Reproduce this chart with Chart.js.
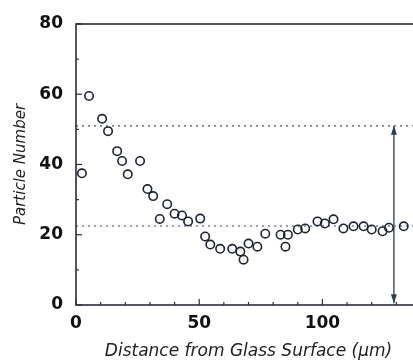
<!DOCTYPE html>
<html>
<head>
<meta charset="utf-8">
<script src="https://cdn.jsdelivr.net/npm/chart.js@4"></script>
<style>
  html, body { margin: 0; padding: 0; background: #fff; overflow: hidden; }
  #wrap { width: 430px; height: 364px; position: relative; }
</style>
</head>
<body>
<div id="wrap"><canvas id="chart" width="430" height="364"></canvas></div>
<script>
// distance from glass surface (um) and particle count
const distance = [2.4, 5.3, 10.6, 13, 16.7, 18.7, 21, 26, 29, 31.3, 34, 37, 40, 43, 45.5, 50.4, 52.4,
  54.5, 58.5, 63.4, 66.7, 68, 70, 73.6, 76.8, 83, 85, 86, 90, 93, 98, 101, 104.5, 108.5, 112.6,
  116.7, 120, 124.4, 127, 133];
const particles = [37.5, 59.5, 53, 49.5, 43.8, 41, 37.2, 41, 33, 31, 24.5, 28.7, 26, 25.5, 23.8, 24.6, 19.5,
  17.2, 16, 16, 15.2, 12.9, 17.5, 16.6, 20.3, 20, 16.6, 20, 21.5, 21.8, 23.8, 23.2, 24.4, 21.8, 22.4,
  22.4, 21.5, 21, 22, 22.4];

const upperLevel = 51;     // dotted reference lines
const lowerLevel = 22.5;
const arrowAt = 129;       // vertical double arrow position
const xMax = 140;
const yTicks = [0, 20, 40, 60, 80];
const xTicks = [0, 50, 100];

const ink = '#1d2330';

const frame = {
  id: 'frame',
  afterDraw(chart) {
    const c = chart.ctx, a = chart.chartArea;
    const xs = chart.scales.x, ys = chart.scales.y;
    c.save();
    c.strokeStyle = '#2a2e36';
    c.lineWidth = 1.6;
    c.strokeRect(a.left, a.top, a.right - a.left, a.bottom - a.top);
    c.lineWidth = 1.2;
    ys.ticks.forEach(t => {
      const y = ys.getPixelForValue(t.value);
      const len = t.value % 20 === 0 ? 6 : 3;
      c.beginPath(); c.moveTo(a.left, y); c.lineTo(a.left + len, y); c.stroke();
    });
    xs.ticks.forEach(t => {
      const x = xs.getPixelForValue(t.value);
      const len = t.value % 50 === 0 ? 6 : 3;
      c.beginPath(); c.moveTo(x, a.bottom); c.lineTo(x, a.bottom - len); c.stroke();
    });
    // arrow heads on the vertical line
    const ax = xs.getPixelForValue(arrowAt);
    const yTop = ys.getPixelForValue(upperLevel);
    const yBot = ys.getPixelForValue(0.5);
    c.fillStyle = '#2b3d4a';
    c.beginPath(); c.moveTo(ax, yTop); c.lineTo(ax - 3, yTop + 9); c.lineTo(ax + 3, yTop + 9); c.closePath(); c.fill();
    c.beginPath(); c.moveTo(ax, yBot); c.lineTo(ax - 3, yBot - 9); c.lineTo(ax + 3, yBot - 9); c.closePath(); c.fill();
    c.restore();
  }
};

new Chart(document.getElementById('chart'), {
  type: 'scatter',
  data: {
    datasets: [
      {
        data: distance.map((d, i) => ({ x: d, y: particles[i] })),
        pointStyle: 'circle',
        pointRadius: 4.2,
        pointBorderWidth: 1.6,
        pointBorderColor: ink,
        pointBackgroundColor: 'rgba(255,255,255,0)',
        showLine: false
      },
      {
        data: [{ x: 0, y: upperLevel }, { x: xMax, y: upperLevel }],
        showLine: true, pointRadius: 0, borderColor: '#7d828a', borderWidth: 1.6, borderDash: [2, 4]
      },
      {
        data: [{ x: 0, y: lowerLevel }, { x: xMax, y: lowerLevel }],
        showLine: true, pointRadius: 0, borderColor: '#7d828a', borderWidth: 1.6, borderDash: [2, 4]
      },
      {
        data: [{ x: arrowAt, y: 0.5 }, { x: arrowAt, y: upperLevel }],
        showLine: true, pointRadius: 0, borderColor: '#2b3d4a', borderWidth: 1.3
      }
    ]
  },
  options: {
    responsive: false,
    animation: false,
    layout: { padding: { top: 24, right: 9, left: 0, bottom: 0 } },
    plugins: { legend: { display: false }, tooltip: { enabled: false } },
    scales: {
      x: {
        type: 'linear', min: 0, max: xMax,
        afterFit(s) { s.height = 59; },
        grid: { display: false },
        border: { display: false },
        ticks: {
          stepSize: 10, padding: 0, color: '#111', maxRotation: 0, minRotation: 0, autoSkip: false,
          font: { family: 'DejaVu Sans', weight: 'bold', size: 17 },
          callback: v => xTicks.includes(v) ? String(v) : ''
        },
        title: {
          display: true, text: 'Distance from Glass Surface (µm)', color: '#222',
          font: { family: 'DejaVu Sans', style: 'italic', size: 17 }, padding: { top: 2, bottom: 2 }
        }
      },
      y: {
        type: 'linear', min: 0, max: 80,
        afterFit(s) { s.width = 76; },
        grid: { display: false },
        border: { display: false },
        ticks: {
          stepSize: 10, padding: 5, color: '#111', autoSkip: false,
          font: { family: 'DejaVu Sans', weight: 'bold', size: 17 },
          callback: v => yTicks.includes(v) ? String(v) : ''
        },
        title: {
          display: true, text: 'Particle Number', color: '#222',
          font: { family: 'DejaVu Sans', style: 'italic', size: 15 }, padding: { top: 12, bottom: 4 }
        }
      }
    }
  },
  plugins: [frame]
});
</script>
</body>
</html>
